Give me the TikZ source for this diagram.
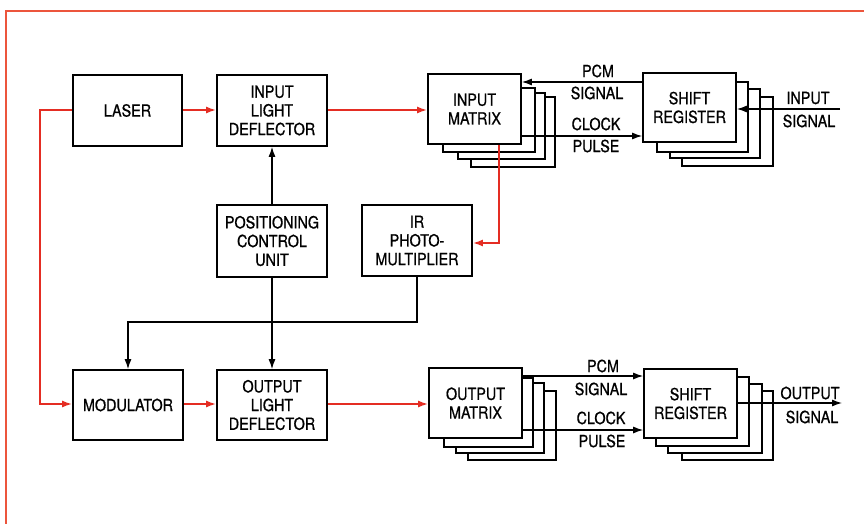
\documentclass[tikz,border=0pt]{standalone}
\usepackage{fontspec}
\setmainfont[FakeStretch=0.86,FakeBold=0.8]{TeX Gyre Heros}
\usetikzlibrary{arrows.meta}
\definecolor{sigred}{RGB}{228,45,35}
\definecolor{framered}{RGB}{236,85,60}
\begin{document}
\begin{tikzpicture}[x=1pt,y=-1pt,
 box/.style={draw, line width=1.7pt, fill=white, align=center, font=\fontsize{16.7}{18.7}\selectfont, inner sep=0pt},
 layer/.style={draw, line width=1.4pt, fill=white},
 conn/.style={line width=1.2pt},
 arr/.style={conn, -{Latex[length=10pt,width=7pt]}},
 redline/.style={line width=1.8pt, draw=sigred},
 redarr/.style={redline, -{Latex[length=10pt,width=7pt]}},
 lbl/.style={font=\fontsize{16.7}{18.7}\selectfont, inner sep=0pt}]
\useasboundingbox (0,0) rectangle (864,524);
\draw[line width=1.5pt, draw=framered] (6,524) -- (6,11) -- (864,11);

% stacked layers
\draw[layer] (471,97) rectangle (555,167);
\draw[layer] (458,93) rectangle (545,159);
\draw[layer] (443,88) rectangle (535,152);
\draw[layer] (468,391) rectangle (556,460);
\draw[layer] (456,383) rectangle (544,453);
\draw[layer] (444,378) rectangle (533,447);
\draw[layer] (682,97) rectangle (773,166);
\draw[layer] (670,89) rectangle (760,158);
\draw[layer] (657,82) rectangle (748,152);
\draw[layer] (682,391) rectangle (773,460);
\draw[layer] (668,384) rectangle (762,453);
\draw[layer] (656,377) rectangle (749,446);

% boxes
\node[box, minimum width=109pt, minimum height=71pt] (laser) at (127.5,110.5) {LASER};
\node[box, minimum width=110pt, minimum height=71pt] (ild) at (272,110.5) {INPUT\\LIGHT\\DEFLECTOR};
\node[box, minimum width=93pt, minimum height=70pt] (im) at (474.5,109) {INPUT\\MATRIX};
\node[box, minimum width=93pt, minimum height=69pt] (sr1) at (689.5,107.5) {SHIFT\\REGISTER};
\node[box, minimum width=110pt, minimum height=72pt] (pos) at (272,241) {POSITIONING\\CONTROL\\UNIT};
\node[box, minimum width=110pt, minimum height=71pt] (ir) at (417,240.5) {IR\\PHOTO-\\MULTIPLIER};
\node[box, minimum width=110pt, minimum height=70pt] (mod) at (128,405) {MODULATOR};
\node[box, minimum width=110pt, minimum height=70pt] (old) at (272,405) {OUTPUT\\LIGHT\\DEFLECTOR};
\node[box, minimum width=93pt, minimum height=70pt] (om) at (475.5,403) {OUTPUT\\MATRIX};
\node[box, minimum width=93pt, minimum height=69pt] (sr2) at (690.5,403.5) {SHIFT\\REGISTER};

% coordinates
\coordinate (pcm1) at (598,82);
\coordinate (clk1) at (598,136);
\coordinate (insig) at (840,109);
\coordinate (pcm2) at (598,376);
\coordinate (clk2) at (598,430);
\coordinate (outsig) at (842,403);
\coordinate (lb) at (40,110);
\coordinate (rc) at (499,243);
\coordinate (j1) at (417,322);
\coordinate (j2) at (128,322);

% red optical paths
\draw[redarr] (laser.east |- 0,110) -- (ild.west |- 0,110);
\draw[redarr] (ild.east |- 0,110) -- (im.west |- 0,110);
\draw[redarr] (laser.west |- lb) -- (lb) -- (lb |- 0,404) -- (mod.west |- 0,404);
\draw[redarr] (mod.east |- 0,404) -- (old.west |- 0,404);
\draw[redarr] (old.east |- 0,404) -- (om.west |- 0,404);
\draw[redarr] (rc |- im.south) -- (rc) -- (rc -| ir.east);

% black connectors
\draw[arr] (sr1.west |- pcm1) -- (im.east |- pcm1);
\draw[arr] (im.east |- clk1) -- (sr1.west |- clk1);
\draw[arr] (insig) -- (insig -| sr1.east);
\draw[arr] (om.east |- pcm2) -- (sr2.west |- pcm2);
\draw[arr] (om.east |- clk2) -- (sr2.west |- clk2);
\draw[arr] (sr2.east |- outsig) -- (outsig);
\draw[arr] (pos.north) -- (ild.south);
\draw[arr] (pos.south) -- (old.north);
\draw[arr] (ir.south) -- (j1) -- (j2) -- (mod.north);

% labels
\node[lbl] (l1) at (598,71) {PCM};
\node[lbl] (l2) at (597,93) {SIGNAL};
\node[lbl] (l3) at (596,124) {CLOCK};
\node[lbl] (l4) at (596,146) {PULSE};
\node[lbl] (l5) at (808,98) {INPUT};
\node[lbl] (l6) at (809,121) {SIGNAL};
\node[lbl] (l7) at (603,366) {PCM};
\node[lbl] (l8) at (601,389) {SIGNAL};
\node[lbl] (l9) at (601,418) {CLOCK};
\node[lbl] (l10) at (602,441) {PULSE};
\node[lbl] (l11) at (810,393) {OUTPUT};
\node[lbl] (l12) at (812,417) {SIGNAL};
\end{tikzpicture}
\end{document}
